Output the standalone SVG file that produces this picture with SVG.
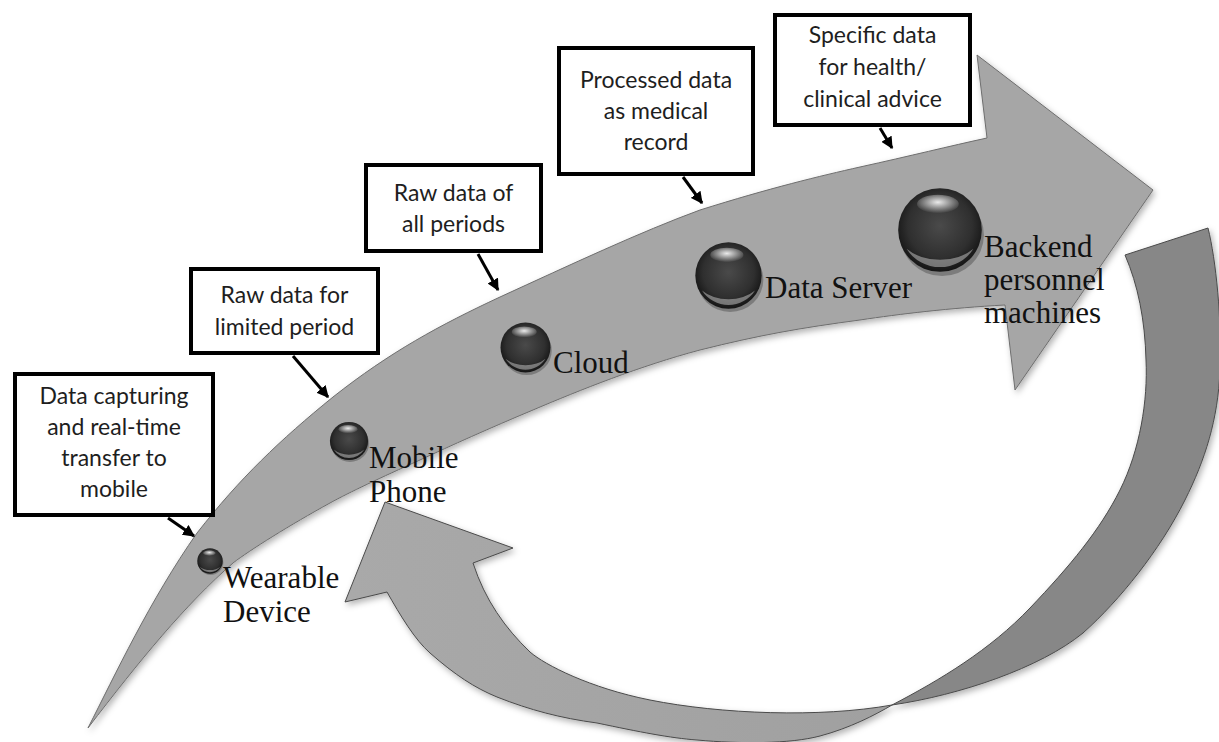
<svg xmlns="http://www.w3.org/2000/svg" width="1219" height="742" viewBox="0 0 1219 742">
<style>
.box rect{fill:#fff;stroke:#000;stroke-width:4}
.box text{font-family:Lato,"Liberation Sans",sans-serif;font-size:23px;fill:#1e1e1e;text-anchor:middle}
.lbl{font-family:"Liberation Serif","Times New Roman",serif;font-size:31px;fill:#111}
.conn line{stroke:#000;stroke-width:3;marker-end:url(#ah)}
</style>
<defs>
<marker id="ah" viewBox="0 0 10 10" refX="9" refY="5" markerWidth="4" markerHeight="4" orient="auto"><path d="M0,0 L10,5 L0,10 z" fill="#000"/></marker>
<filter id="sh" x="-10%" y="-10%" width="120%" height="120%"><feDropShadow dx="2" dy="3" stdDeviation="3" flood-color="#000" flood-opacity="0.3"/></filter>
<radialGradient id="ballg" cx="50%" cy="45%" r="55%"><stop offset="0" stop-color="#4a4a4a"/><stop offset="0.7" stop-color="#2f2f2f"/><stop offset="1" stop-color="#151515"/></radialGradient>
<radialGradient id="hl" cx="50%" cy="40%" r="60%"><stop offset="0" stop-color="#fff" stop-opacity="0.9"/><stop offset="1" stop-color="#fff" stop-opacity="0"/></radialGradient>
<linearGradient id="retg" x1="0" y1="0" x2="1" y2="0"><stop offset="0" stop-color="#a9a9a9"/><stop offset="1" stop-color="#a0a0a0"/></linearGradient>
<symbol id="ball" viewBox="-1.1 -1.1 2.2 2.2" overflow="visible">
<ellipse cx="0.05" cy="0.12" rx="1" ry="0.98" fill="#000" opacity="0.25"/>
<circle r="1" fill="url(#ballg)"/>
<path d="M-0.8,0.45 A0.95,0.95 0 0 0 0.8,0.45 A1.05,0.75 0 0 1 -0.8,0.45Z" fill="#bdbdbd" opacity="0.55"/>
<ellipse cx="-0.05" cy="-0.62" rx="0.5" ry="0.22" fill="url(#hl)"/>
</symbol>
</defs>
<rect width="1219" height="742" fill="#fff"/>

<g id="return-arrow" filter="url(#sh)">
<path d="M892,705 C940,680 990,650 1030,608 C1070,566 1100,530 1120,490 C1140,450 1148,400 1146,360 C1145,320 1138,285 1125,255 L1208,228 C1216,260 1222,320 1220,370 C1218,420 1205,460 1185,500 C1160,550 1120,600 1083,633 C1040,668 960,695 892,705 Z" fill="#878787" stroke="#4a4a4a" stroke-width="1"/>
<path d="M892,705 C820,718 720,714 650,700 C590,688 545,665 530,652 C505,628 485,600 473,563 L513,548 L385,502 L345,602 L387,592 C400,615 415,640 430,653 C455,675 475,688 497,697 C530,710 560,718 597,723 C640,732 670,738 697,740 C740,744 790,744 820,736 C850,728 875,715 892,705 Z" fill="url(#retg)" stroke="#4a4a4a" stroke-width="1"/>
</g>

<g id="main-arrow" filter="url(#sh)">
<path d="M88,728 C115,675 150,600 197,533 C240,478 280,440 333,397 C390,352 440,325 500,297 C570,265 640,232 700,210 C770,188 820,176 860,167 C910,156 950,146 987,138 L977,55 L1153,190 L1015,390 L1005,305 C950,308 900,314 860,320 C800,328 760,335 700,350 C640,366 580,390 533,410 C490,428 450,446 420,460 C380,478 350,492 330,503 C290,525 250,550 233,563 C185,605 140,660 88,728 Z" fill="#a6a6a6" stroke="#6e6e6e" stroke-width="1"/>
</g>

<g id="node-wearable">
<use href="#ball" x="196" y="547" width="28" height="28"/>
<text class="lbl" x="223" y="588">Wearable</text>
<text class="lbl" x="223" y="622">Device</text>
</g>
<g id="node-mobile">
<use href="#ball" x="328" y="420" width="42" height="42"/>
<text class="lbl" x="369" y="468">Mobile</text>
<text class="lbl" x="369" y="502">Phone</text>
</g>
<g id="node-cloud">
<use href="#ball" x="498" y="320" width="55" height="55"/>
<text class="lbl" x="553" y="373">Cloud</text>
</g>
<g id="node-dataserver">
<use href="#ball" x="692" y="239" width="73" height="73"/>
<text class="lbl" x="765" y="298">Data Server</text>
</g>
<g id="node-backend">
<use href="#ball" x="894" y="184" width="92" height="92"/>
<text class="lbl" x="984" y="257">Backend</text>
<text class="lbl" x="984" y="290">personnel</text>
<text class="lbl" x="984" y="323">machines</text>
</g>

<g id="box-capture" class="box">
<rect x="15" y="374" width="198" height="141"/>
<text x="114" y="404">Data capturing</text>
<text x="114" y="435">and real-time</text>
<text x="114" y="466">transfer to</text>
<text x="114" y="497">mobile</text>
</g>
<g id="box-limited" class="box">
<rect x="191" y="269" width="187" height="84"/>
<text x="284.5" y="303">Raw data for</text>
<text x="284.5" y="335">limited period</text>
</g>
<g id="box-all" class="box">
<rect x="366" y="165" width="175" height="86"/>
<text x="453.5" y="201">Raw data of</text>
<text x="453.5" y="232">all periods</text>
</g>
<g id="box-processed" class="box">
<rect x="559" y="48" width="194" height="126"/>
<text x="656" y="88">Processed data</text>
<text x="656" y="119">as medical</text>
<text x="656" y="150">record</text>
</g>
<g id="box-specific" class="box">
<rect x="775" y="15" width="195" height="110"/>
<text x="872.5" y="43">Specific data</text>
<text x="872.5" y="75">for health/</text>
<text x="872.5" y="107">clinical advice</text>
</g>

<g id="connectors" class="conn">
<line x1="168" y1="518" x2="194" y2="536"/>
<line x1="293" y1="356" x2="328" y2="397"/>
<line x1="478" y1="254" x2="498" y2="290"/>
<line x1="683" y1="177" x2="702" y2="203"/>
<line x1="880" y1="128" x2="892" y2="148"/>
</g>
</svg>
